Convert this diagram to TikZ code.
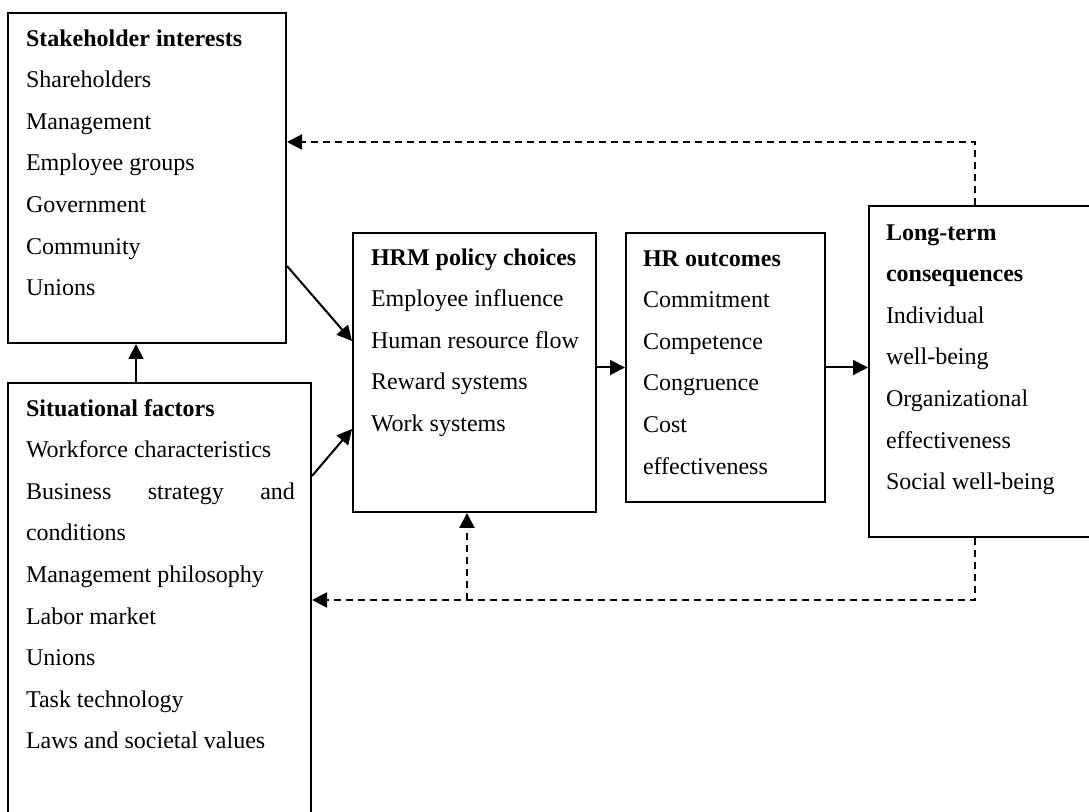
\documentclass[tikz,border=0pt]{standalone}
\usepackage{fontspec}
\setmainfont{Liberation Serif}
\usetikzlibrary{arrows.meta,calc,fit}
\tikzset {>={Triangle[length=7.5pt,width=7.5pt]}}

\begin{document}
\begin{tikzpicture}[x=.5pt,y=-.5pt,line width=1pt,
  box/.style={draw,inner sep=0pt},
  txt/.style={anchor=north west,inner sep=0pt,align=left,
    font=\fontsize{12}{20.8}\selectfont},
  back/.style={dash pattern=on 3.5pt off 2.5pt}]
\clip (0,0) rectangle (1089,812);
\node[box,fit={(8,13) (286,343)}] (stake) {};
\node[box,fit={(8,383) (311,840)}] (sit) {};
\node[box,fit={(353,233) (596,512)}] (hrm) {};
\node[box,fit={(626,233) (825,502)}] (hr) {};
\node[box,fit={(869,206) (1120,537)}] (lt) {};

% first line carries a strut: baseline sits 33px under the box top
\node[txt] (stakeT) at ($(stake.north west)+(18,4)$)
  {\strut\textbf{Stakeholder interests}\\Shareholders\\Management\\Employee groups\\
   Government\\Community\\Unions};
\node[txt] (sitT) at ($(sit.north west)+(18,4)$)
  {\strut\textbf{Situational factors}\\Workforce characteristics\\
   \makebox[134.5pt][s]{Business strategy and}\\conditions\\
   Management philosophy\\Labor market\\Unions\\Task technology\\
   Laws and societal values};
\node[txt] (hrmT) at ($(hrm.north west)+(18,3)$)
  {\strut\textbf{HRM policy choices}\\Employee influence\\Human resource flow\\
   Reward systems\\Work systems};
\node[txt] (hrT) at ($(hr.north west)+(17,4)$)
  {\strut\textbf{HR outcomes}\\Commitment\\Competence\\Congruence\\Cost\\effectiveness};
\node[txt] (ltT) at ($(lt.north west)+(17,5)$)
  {\strut\textbf{Long-term}\\\textbf{consequences}\\Individual\\well-being\\
   Organizational\\effectiveness\\Social well-being};

% solid links
\draw[->] ($(sit.north west)+(129,0)$) -- ($(stake.south west)+(129,0)$);
\draw[->] ($(stake.south east)+(0,-78)$) -- ($(hrm.north west)+(0,109)$);
\draw[->] ($(sit.north east)+(0,94)$) -- ($(hrm.north west)+(0,197)$);
\draw[->] (hrm.east |- hr.west) -- (hr.west);
\draw[->] (hr.east) -- (lt.west |- hr.east);

% feedback
\coordinate (up) at (975,142);
\coordinate (dn) at (975,600);
\coordinate (br) at (467,600);
\draw[back,->] (lt.north -| up) -- (up) -- (stake.east |- up);
\draw[back,->] (lt.south -| dn) -- (dn) -- (sit.east |- dn);
\draw[back,->] (br) -- (hrm.south -| br);
\end{tikzpicture}
\end{document}
